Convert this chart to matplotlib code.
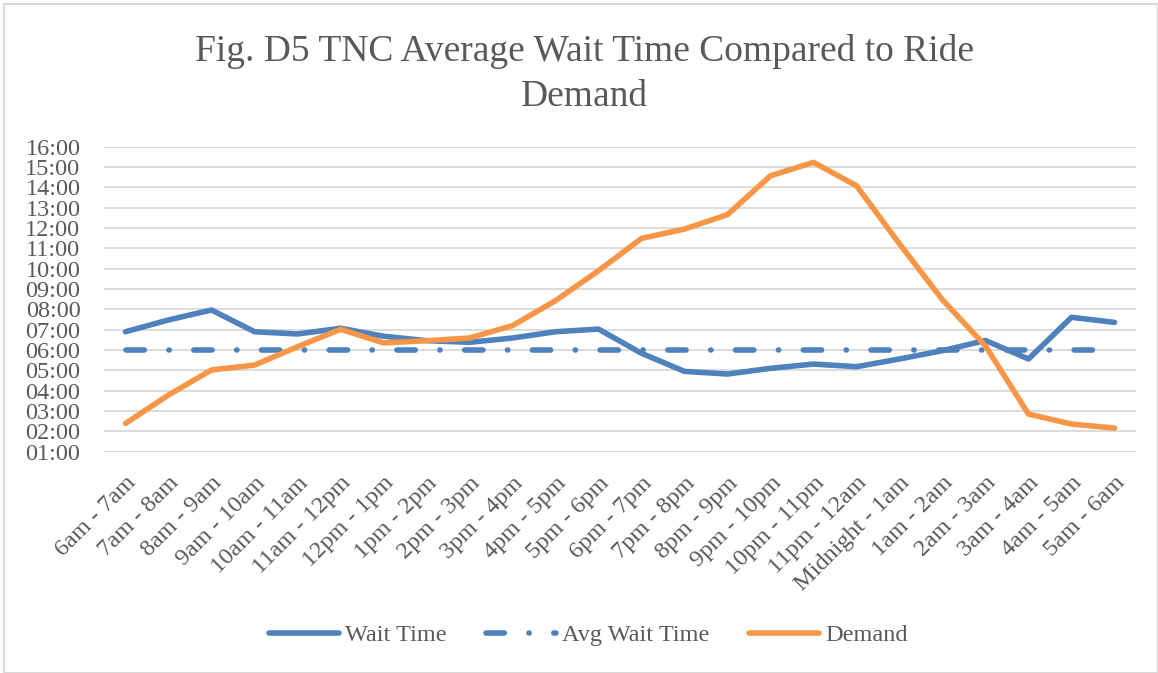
import matplotlib
matplotlib.use("Agg")
import matplotlib.pyplot as plt
from matplotlib.ticker import FixedLocator, FuncFormatter
from matplotlib.patches import Rectangle

categories = ["6am - 7am", "7am - 8am", "8am - 9am", "9am - 10am", "10am - 11am",
              "11am - 12pm", "12pm - 1pm", "1pm - 2pm", "2pm - 3pm", "3pm - 4pm",
              "4pm - 5pm", "5pm - 6pm", "6pm - 7pm", "7pm - 8pm", "8pm - 9pm",
              "9pm - 10pm", "10pm - 11pm", "11pm - 12am", "Midnight - 1am",
              "1am - 2am", "2am - 3am", "3am - 4am", "4am - 5am", "5am - 6am"]

wait_time = [6.90, 7.48, 7.97, 6.90, 6.79, 7.07, 6.68, 6.46, 6.38, 6.59, 6.90, 7.03,
             5.84, 4.95, 4.82, 5.10, 5.31, 5.18, 5.56, 5.97, 6.47, 5.56, 7.61, 7.36]
avg_wait_time = [6.0] * 24
demand = [2.39, 3.79, 5.02, 5.26, 6.16, 7.02, 6.35, 6.46, 6.59, 7.20, 8.43, 9.90,
          11.49, 11.95, 12.66, 14.57, 15.23, 14.08, 11.22, 8.47, 6.20, 2.85, 2.36, 2.16]

y_ticks = list(range(1, 17))
title = "Fig. D5 TNC Average Wait Time Compared to Ride\nDemand"

FONT = ["Liberation Serif", "DejaVu Serif"]
TXT = "#595959"
BLUE = "#4F81BD"
ORANGE = "#F79646"
GRID = "#D9D9D9"

plt.rcParams["font.family"] = FONT

fig = plt.figure(figsize=(11.58, 6.73), dpi=100)
ax = fig.add_axes([104 / 1158, 1 - 451.7 / 673, (1136 - 104) / 1158, (451.7 - 146.7) / 673])

x = list(range(len(categories)))
lw = 4.0
l1, = ax.plot(x, wait_time, color=BLUE, lw=lw, solid_capstyle="round",
              solid_joinstyle="round", label="Wait Time", zorder=3)
l2, = ax.plot(x, avg_wait_time, color=BLUE, lw=lw, linestyle=(0, (3.3, 4.42, 0.05, 4.42)),
              dash_capstyle="round", label="Avg Wait Time", zorder=3)
l3, = ax.plot(x, demand, color=ORANGE, lw=lw, solid_capstyle="round",
              solid_joinstyle="round", label="Demand", zorder=4)

ax.set_xlim(-0.5, len(categories) - 0.5)
ax.set_ylim(1, 16)
ax.yaxis.set_major_locator(FixedLocator(y_ticks))
ax.yaxis.set_major_formatter(FuncFormatter(lambda v, p: f"{int(round(v)):02d}:00"))
ax.grid(axis="y", color=GRID, lw=1.3)
ax.set_axisbelow(True)
for s in ax.spines.values():
    s.set_visible(False)
ax.tick_params(axis="both", length=0, colors=TXT, labelsize=17.5)
ax.tick_params(axis="y", pad=17)
ax.set_xticks(x)
ax.set_xticklabels(categories, rotation=45, ha="right", rotation_mode="anchor")
for lab in ax.get_xticklabels():
    lab.set_color(TXT)
ax.tick_params(axis="x", pad=15)

fig.text(0.505, 1 - 74 / 673, title, ha="center", va="center", fontsize=27,
         color=TXT, linespacing=1.42)

leg = fig.legend(handles=[l1, l2, l3], loc="center", bbox_to_anchor=(0.508, 1 - 635 / 673),
                 ncol=3, frameon=False, fontsize=17.5, handlelength=2.9,
                 handletextpad=0.25, columnspacing=1.6)
for t in leg.get_texts():
    t.set_color(TXT)

fig.patches.append(Rectangle((4 / 1158, 0), 1 - 4 / 1158, 1 - 4 / 673, transform=fig.transFigure,
                             fill=False, edgecolor=GRID, lw=1.5))

fig.savefig("out.png", dpi=100)
